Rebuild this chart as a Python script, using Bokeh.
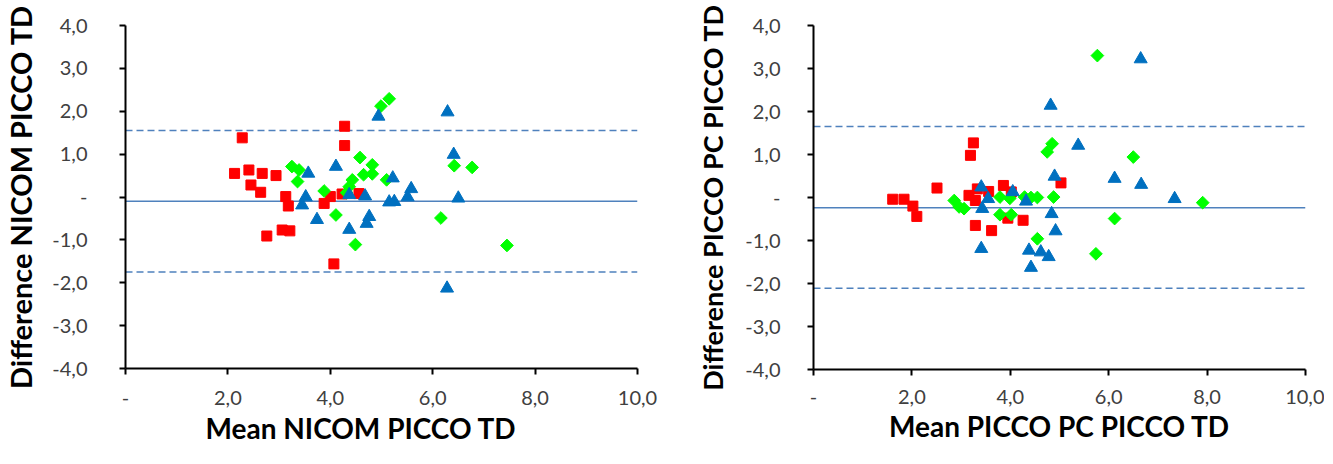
import math
from bokeh.plotting import figure
from bokeh.layouts import row
from bokeh.models import Range1d, FixedTicker, Span, Title
from bokeh.embed import file_html
from bokeh.resources import INLINE

# ---------------- data ----------------
x_ticks = [0, 2, 4, 6, 8, 10]
x_tick_labels = ["-", "2,0", "4,0", "6,0", "8,0", "10,0"]
y_ticks = [-4, -3, -2, -1, 0, 1, 2, 3, 4]
y_tick_labels = ["-4,0", "-3,0", "-2,0", "-1,0", "-", "1,0", "2,0", "3,0", "4,0"]

# Left panel: NICOM vs PICCO TD
left_red_x = [2.28, 2.13, 2.41, 2.67, 2.94, 2.45, 2.64, 3.13, 3.18, 2.76, 3.06, 3.21,
              4.28, 4.28, 4.07, 3.88, 4.00, 4.23, 4.56]
left_red_y = [1.38, 0.55, 0.63, 0.55, 0.50, 0.28, 0.11, 0.01, -0.21, -0.91, -0.77, -0.79,
              1.65, 1.20, -1.56, -0.15, 0.01, 0.07, 0.08]
left_green_x = [3.25, 3.39, 3.36, 3.88, 4.11, 4.32, 4.37, 4.43, 4.49, 4.58, 4.65, 4.82,
                4.82, 5.10, 4.99, 5.15, 6.16, 6.42, 6.77, 7.45]
left_green_y = [0.71, 0.63, 0.36, 0.14, -0.42, 0.10, 0.24, 0.40, -1.11, 0.92, 0.52, 0.75,
                0.54, 0.40, 2.12, 2.29, -0.49, 0.73, 0.69, -1.13]
left_blue_x = [3.57, 3.52, 3.45, 3.74, 4.11, 4.37, 4.37, 4.68, 4.76, 4.71, 4.94, 5.22,
               5.15, 5.25, 5.51, 5.58, 6.29, 6.41, 6.50, 6.28]
left_blue_y = [0.55, 0.00, -0.19, -0.53, 0.71, 0.05, -0.76, 0.02, -0.46, -0.62, 1.88, 0.44,
               -0.12, -0.11, 0.00, 0.19, 1.98, 0.99, -0.03, -2.13]
left_mean = -0.10
left_upper = 1.55
left_lower = -1.75

# Right panel: PICCO PC vs PICCO TD
right_red_x = [1.61, 1.84, 2.02, 2.10, 2.51, 3.25, 3.19, 3.16, 3.33, 3.29, 3.56, 3.29,
               3.62, 3.86, 4.02, 3.95, 4.26, 5.03]
right_red_y = [-0.04, -0.04, -0.20, -0.44, 0.22, 1.27, 0.98, 0.05, 0.20, -0.07, 0.14, -0.65,
               -0.77, 0.28, 0.13, -0.48, -0.53, 0.34]
right_green_x = [2.86, 2.96, 3.06, 3.79, 3.79, 3.99, 4.02, 4.29, 4.42, 4.55, 4.55, 4.75,
                 4.85, 4.88, 5.77, 6.50, 6.12, 5.74, 7.91]
right_green_y = [-0.07, -0.22, -0.26, 0.01, -0.40, -0.02, -0.40, 0.01, 0.00, 0.00, -0.96, 1.06,
                 1.25, 0.01, 3.30, 0.94, -0.49, -1.31, -0.12]
right_blue_x = [3.41, 3.55, 3.43, 3.41, 4.05, 4.32, 4.38, 4.42, 4.62, 4.78, 4.82, 4.90,
                4.84, 4.92, 5.38, 6.12, 6.66, 6.65, 7.34]
right_blue_y = [0.24, -0.03, -0.26, -1.19, 0.13, -0.09, -1.23, -1.63, -1.27, -1.38, 2.14, 0.49,
                -0.38, -0.78, 1.21, 0.44, 0.30, 3.22, -0.03]
right_mean = -0.24
right_upper = 1.65
right_lower = -2.11

RED = "#FF0000"
GREEN = "#00FF00"
BLUE = "#0070C0"
LINE = "#4F81BD"
FONT = "Lato"


def make_panel(xlab, ylab, reds, greens, blues, mean, upper, lower,
               fw, fh, bl, br, bt, bb, ystand, ytitle_stand, ytitle_size,
               xstand, xtitle_stand, xtitle_align, xtitle_offset):
    p = figure(frame_width=fw, frame_height=fh,
               x_range=Range1d(0, 10), y_range=Range1d(-4, 4),
               output_backend="svg", toolbar_location=None,
               min_border_left=bl, min_border_right=br,
               min_border_top=bt, min_border_bottom=bb)
    p.xgrid.visible = False
    p.ygrid.visible = False
    p.outline_line_color = None
    p.background_fill_color = "white"
    p.border_fill_color = "white"

    for ax in (p.xaxis[0], p.yaxis[0]):
        ax.axis_line_color = "black"
        ax.axis_line_width = 2
        ax.major_tick_line_color = "black"
        ax.major_tick_line_width = 2
        ax.major_tick_out = 6
        ax.major_tick_in = 0
        ax.minor_tick_line_color = None
        ax.major_label_text_font = FONT
        ax.major_label_text_font_size = "20px"
        ax.major_label_text_color = "#404040"
        ax.axis_label_text_font = FONT
        ax.axis_label_text_font_style = "bold"
        ax.axis_label_text_font_size = ytitle_size
        ax.axis_label_text_color = "black"

    p.xaxis.ticker = FixedTicker(ticks=x_ticks)
    p.xaxis.major_label_overrides = {t: l for t, l in zip(x_ticks, x_tick_labels)}
    p.yaxis.ticker = FixedTicker(ticks=y_ticks)
    p.yaxis.major_label_overrides = {t: l for t, l in zip(y_ticks, y_tick_labels)}
    p.yaxis.axis_label = ylab
    p.xaxis.major_label_standoff = xstand
    p.yaxis.major_label_standoff = ystand
    p.yaxis.axis_label_standoff = ytitle_stand

    p.add_layout(Title(text=xlab, align=xtitle_align, offset=xtitle_offset,
                       standoff=xtitle_stand, text_font=FONT, text_font_size="28px",
                       text_font_style="bold", text_color="black"), "below")

    p.add_layout(Span(location=mean, dimension="width", line_color=LINE,
                      line_width=1.5, level="underlay"))
    for loc in (upper, lower):
        p.add_layout(Span(location=loc, dimension="width", line_color=LINE,
                          line_width=1.5, line_dash="7 4", level="underlay"))

    p.scatter(reds[0], reds[1], marker="square", size=10,
              fill_color=RED, line_color=RED)
    p.scatter(greens[0], greens[1], marker="square", angle=math.pi / 4, size=9,
              fill_color=GREEN, line_color=GREEN)
    p.scatter(blues[0], blues[1], marker="triangle", size=13,
              fill_color=BLUE, line_color=BLUE)
    return p


p1 = make_panel("Mean NICOM PICCO TD", "Difference NICOM PICCO TD",
                (left_red_x, left_red_y), (left_green_x, left_green_y),
                (left_blue_x, left_blue_y), left_mean, left_upper, left_lower,
                fw=512, fh=343, bl=118, br=52, bt=21, bb=84, ystand=32,
                ytitle_stand=11, ytitle_size="29px",
                xstand=16, xtitle_stand=3, xtitle_align="left", xtitle_offset=80)
p2 = make_panel("Mean PICCO PC PICCO TD", "Difference PICCO PC PICCO TD",
                (right_red_x, right_red_y), (right_green_x, right_green_y),
                (right_blue_x, right_blue_y), right_mean, right_upper, right_lower,
                fw=492, fh=344, bl=124, br=19, bt=25, bb=79, ystand=27,
                ytitle_stand=13, ytitle_size="27px",
                xstand=14, xtitle_stand=1, xtitle_align="center", xtitle_offset=0)

layout = row(p1, p2)
open("out.html", "w").write(file_html(layout, INLINE))
